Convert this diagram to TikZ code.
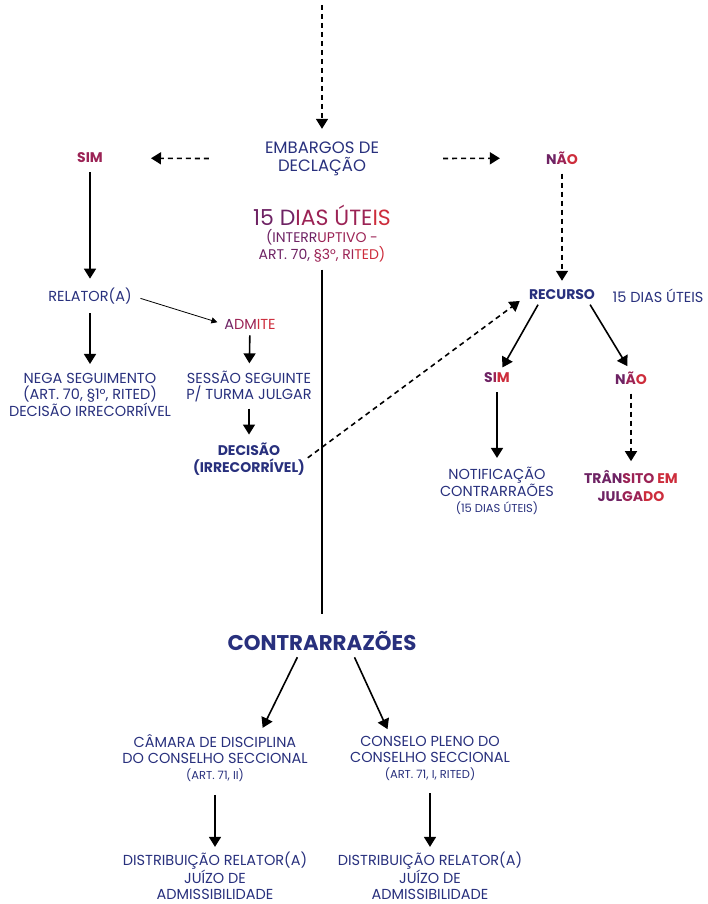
\documentclass[tikz,border=0pt]{standalone}
\usepackage{fontspec}
\setmainfont{Poppins}
\usetikzlibrary{arrows.meta}
\definecolor{azul}{RGB}{40,48,125}
\definecolor{roxo}{RGB}{110,35,100}
\definecolor{vinho}{RGB}{155,35,85}
\definecolor{vermelho}{RGB}{205,45,60}
\newcommand{\grad}[3]{{\color{roxo}#1}{\color{vinho}#2}{\color{vermelho}#3}}
\tikzset{
  txt/.style={align=center,text=azul,inner sep=1pt,font=\fontsize{14.5}{16}\selectfont},
  neg/.style={txt,font=\fontsize{14}{17}\selectfont\bfseries},
  seta/.style={line width=1.6pt,-{Triangle[width=12pt,length=10pt]}},
  tracejada/.style={seta,dash pattern=on 5pt off 4pt},
  fina/.style={line width=0.8pt,-{Triangle[width=6pt,length=6pt]}}
}
\begin{document}
\begin{tikzpicture}[x=1pt,y=-1pt]
  \useasboundingbox (0,0) rectangle (708,904);
  %topo
  \coordinate (inicio) at (322,5);
  \node[txt,font=\fontsize{16.5}{18}\selectfont] (embargos) at (322,159) {EMBARGOS DE\\DECLAÇÃO};
  \node[neg,text=vinho] (simE) at (90,158) {SIM};
  \node[neg] (naoD) at (562,158) {\grad{N}{Ã}{O}};
  \node[txt,font=\fontsize{22}{24}\selectfont] (prazo) at (322,215) {\grad{15 D}{IAS ÚTE}{IS}};
  \node[txt,font=\fontsize{14}{17}\selectfont] (prazoobs) at (322,246) {\grad{(INTERR}{UPTIVO -}{}\\\grad{ART. 70, }{§3°, RI}{TED)}};
  \draw[tracejada,shorten >=12pt] (inicio) -- (embargos);
  \draw[tracejada,shorten <=55pt,shorten >=47pt] (embargos) -- (simE);
  \draw[tracejada,shorten <=63pt,shorten >=45pt] (embargos) -- (naoD);

  %esquerda
  \node[txt] (relator) at (90,296) {RELATOR(A)};
  \node[txt] (admite) at (250,324) {\grad{A}{DM}{ITE}};
  \node[txt] (nega) at (90,395) {NEGA SEGUIMENTO\\(ART. 70, §1°, RITED)\\DECISÃO IRRECORRÍVEL};
  \node[txt] (sessao) at (249,387) {SESSÃO SEGUINTE\\P/ TURMA JULGAR};
  \node[neg] (decisao) at (249,459) {DECISÃO\\(IRRECORRÍVEL)};
  \draw[seta,shorten <=8pt,shorten >=8pt] (simE) -- (relator);
  \draw[fina,shorten <=8pt,shorten >=6pt] (relator.east) -- (admite.west);
  \draw[seta,shorten <=8pt,shorten >=8pt] (relator) -- (nega);
  \draw[seta,shorten <=5pt,shorten >=7pt] (admite) -- (sessao);
  \draw[seta,shorten <=5pt,shorten >=7pt] (sessao) -- (decisao);

  %direita
  \node[neg] (recurso) at (562,295) {RECURSO};
  \node[txt] (prazorec) at (658,296) {15 DIAS ÚTEIS};
  \node[neg] (simR) at (497,378) {\grad{S}{I}{M}};
  \node[neg] (naoR) at (631,378) {\grad{N}{Ã}{O}};
  \node[txt] (notif) at (497,491) {NOTIFICAÇÃO\\CONTRARRAÕES\\{\fontsize{11.5}{14}\selectfont (15 DIAS ÚTEIS)}};
  \node[neg,font=\fontsize{14}{18}\selectfont\bfseries] (transito) at (631,486) {\grad{TRÂN}{SITO }{EM}\\\grad{JUL}{GA}{DO}};
  \draw[tracejada,shorten <=8pt,shorten >=8pt] (naoD) -- (recurso);
  \draw[tracejada,shorten <=2pt,shorten >=10pt] (decisao.east) -- (recurso.west);
  \draw[seta,shorten <=4pt,shorten >=5pt] ([xshift=-22pt]recurso.south) -- ([xshift=3pt]simR.north);
  \draw[seta,shorten <=4pt,shorten >=5pt] ([xshift=26pt]recurso.south) -- ([xshift=-1pt]naoR.north);
  \draw[seta,shorten <=8pt,shorten >=8pt] (simR) -- (notif);
  \draw[tracejada,shorten <=8pt,shorten >=8pt] (naoR) -- (transito);

  %centro
  \node[txt,font=\fontsize{21.3}{24}\selectfont\bfseries] (contra) at (322,641) {CONTRARRAZÕES};
  \draw[line width=1.6pt,shorten <=6pt,shorten >=16pt] (prazoobs) -- (contra);

  %baixo
  \node[txt] (camara) at (215,758) {CÂMARA DE DISCIPLINA\\DO CONSELHO SECCIONAL\\{\fontsize{11.5}{14}\selectfont (ART. 71, II)}};
  \node[txt] (conselho) at (430,758) {CONSELO PLENO DO\\CONSELHO SECCIONAL\\{\fontsize{11.5}{14}\selectfont (ART. 71, I, RITED)}};
  \node[txt] (dist1) at (215,876) {DISTRIBUIÇÃO RELATOR(A)\\JUÍZO DE\\ADMISSIBILIDADE};
  \node[txt] (dist2) at (430,876) {DISTRIBUIÇÃO RELATOR(A)\\JUÍZO DE\\ADMISSIBILIDADE};
  \draw[seta,shorten <=6pt,shorten >=6pt] ([xshift=-22pt]contra.south) -- ([xshift=45pt]camara.north);
  \draw[seta,shorten <=6pt,shorten >=6pt] ([xshift=30pt]contra.south) -- ([xshift=-40pt]conselho.north);
  \draw[seta,shorten <=12pt,shorten >=4pt] (camara) -- (dist1);
  \draw[seta,shorten <=12pt,shorten >=4pt] (conselho) -- (dist2);
\end{tikzpicture}
\end{document}
